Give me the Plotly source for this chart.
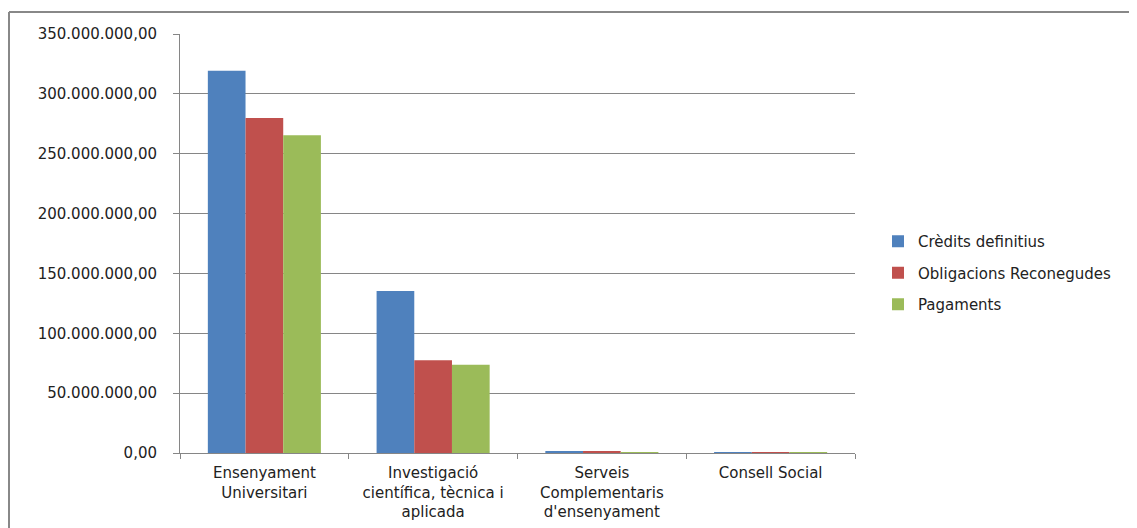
import plotly.graph_objects as go

categories = ["Ensenyament<br>Universitari",
              "Investigació<br>científica, tècnica i<br>aplicada",
              "Serveis<br>Complementaris<br>d'ensenyament",
              "Consell Social"]
series_names = ["Crèdits definitius", "Obligacions Reconegudes", "Pagaments"]
credits = [319400000, 135300000, 1700000, 200000]
obligacions = [279800000, 77400000, 900000, 150000]
pagaments = [265400000, 73800000, 800000, 150000]
colors = ["#4F81BD", "#C0504D", "#9BBB59"]
tick_vals = [0, 50e6, 100e6, 150e6, 200e6, 250e6, 300e6, 350e6]

fig = go.Figure()
for i, (name, vals) in enumerate(zip(series_names, [credits, obligacions, pagaments])):
    fig.add_trace(go.Bar(x=categories, y=vals, name=name, marker_color=colors[i],
                         marker_line_width=0, legendgroup=str(i)))

font = "'DejaVu Sans', sans-serif"
OFF = 8  # page body offset
L, T = 180 - OFF, 34 - OFF
PW, PH = 675, 419
FS = 15
fig.update_layout(
    width=1137 - OFF, height=528 - OFF,
    margin=dict(l=L, r=282, t=T, b=75),
    paper_bgcolor="white", plot_bgcolor="white",
    separators=",.",
    barmode="group", bargap=0.33, bargroupgap=0,
    font=dict(family=font, size=FS, color="#222222"),
    showlegend=True,
    legend=dict(x=(878 - 180) / PW, y=(453 - 273) / PH, xanchor="left", yanchor="middle",
                tracegroupgap=9, font=dict(size=FS, family=font, color="#222222"),
                itemwidth=30, traceorder="grouped"),
    xaxis=dict(showline=True, linecolor="#868686", linewidth=1,
               ticks="outside", tickson="boundaries", ticklen=5, tickcolor="#868686",
               ticklabelstandoff=6, automargin=False,
               tickfont=dict(size=FS), showgrid=False),
    yaxis=dict(range=[0, 350e6], tickvals=tick_vals, tickformat=",.2f",
               showgrid=True, gridcolor="#868686", gridwidth=1,
               showline=True, linecolor="#868686", linewidth=1,
               ticks="outside", ticklen=6, tickcolor="#868686",
               ticklabelstandoff=13, automargin=False,
               tickfont=dict(size=FS), zeroline=False),
    shapes=[dict(type="line", xref="paper", yref="paper",
                 x0=(9 - 180) / PW, x1=(1145 - 180) / PW,
                 y0=(453 - 12) / PH, y1=(453 - 12) / PH,
                 line=dict(color="#888888", width=2)),
            dict(type="line", xref="paper", yref="paper",
                 x0=(9 - 180) / PW, x1=(9 - 180) / PW,
                 y0=(453 - 12) / PH, y1=(453 - 540) / PH,
                 line=dict(color="#888888", width=2))],
)
fig.write_html("out.html")
